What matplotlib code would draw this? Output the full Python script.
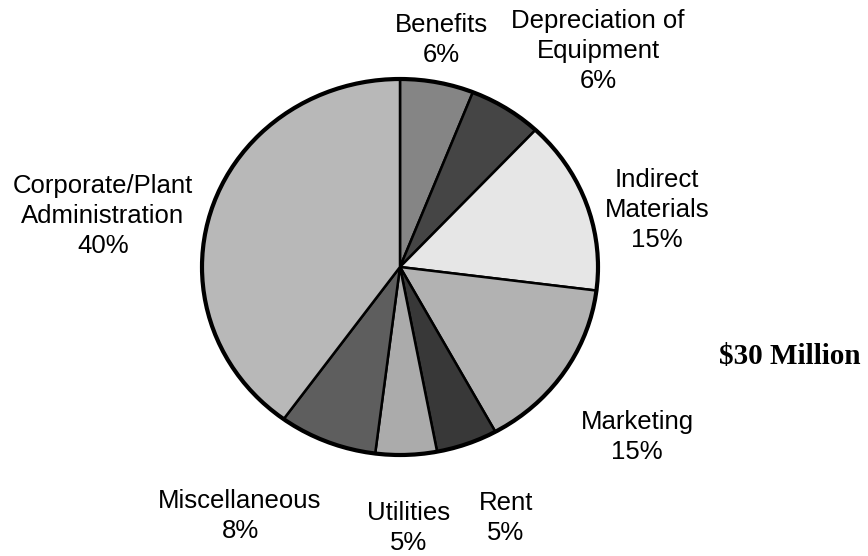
import matplotlib.pyplot as plt
from matplotlib.patches import Circle

# slices, clockwise from 12 o'clock
categories = ["Benefits", "Depreciation of\nEquipment", "Indirect\nMaterials", "Marketing",
              "Rent", "Utilities", "Miscellaneous", "Corporate/Plant\nAdministration"]
shares = [6, 6, 15, 15, 5, 5, 8, 40]
grays = ["#858585", "#454545", "#e6e6e6", "#b2b2b2", "#383838", "#ababab", "#5e5e5e", "#b8b8b8"]

# label block centres in pixels (x, y from top)
label_pos = [(441, 40), (598, 51), (657, 210), (637, 437),
             (506, 518), (409, 528), (240, 516), (103, 216)]
total_label = "$30 Million"

W, H = 868, 556
cx, cy = 400, 267      # pie centre, pixels
rx, ry = 198, 188      # scanned pie is a touch squashed

fig = plt.figure(figsize=(W / 100, H / 100), dpi=100)
ax = fig.add_axes([0, 0, 1, 1])

yscale = rx / ry
centre = (cx, (H - cy) * yscale)
ax.pie(shares, colors=grays, startangle=90, counterclock=False,
       center=centre, radius=rx,
       wedgeprops=dict(edgecolor="black", linewidth=1.8))
ax.add_patch(Circle(centre, rx, fill=False, edgecolor="black", linewidth=3))
ax.set_xlim(0, W)
ax.set_ylim(0, H * yscale)
ax.set_aspect("auto")
ax.axis("off")

font = ["Liberation Sans", "DejaVu Sans"]
for name, pct, (x, y) in zip(categories, shares, label_pos):
    fig.text(x / W, 1 - y / H, f"{name}\n{pct}%", ha="center", va="center",
             fontsize=18.5, family=font, linespacing=1.32)

fig.text(790 / W, 1 - 356 / H, total_label, ha="center", va="center",
         fontsize=21, fontweight="bold", family=["Liberation Serif", "DejaVu Serif"])

fig.savefig("out.png", dpi=100)
